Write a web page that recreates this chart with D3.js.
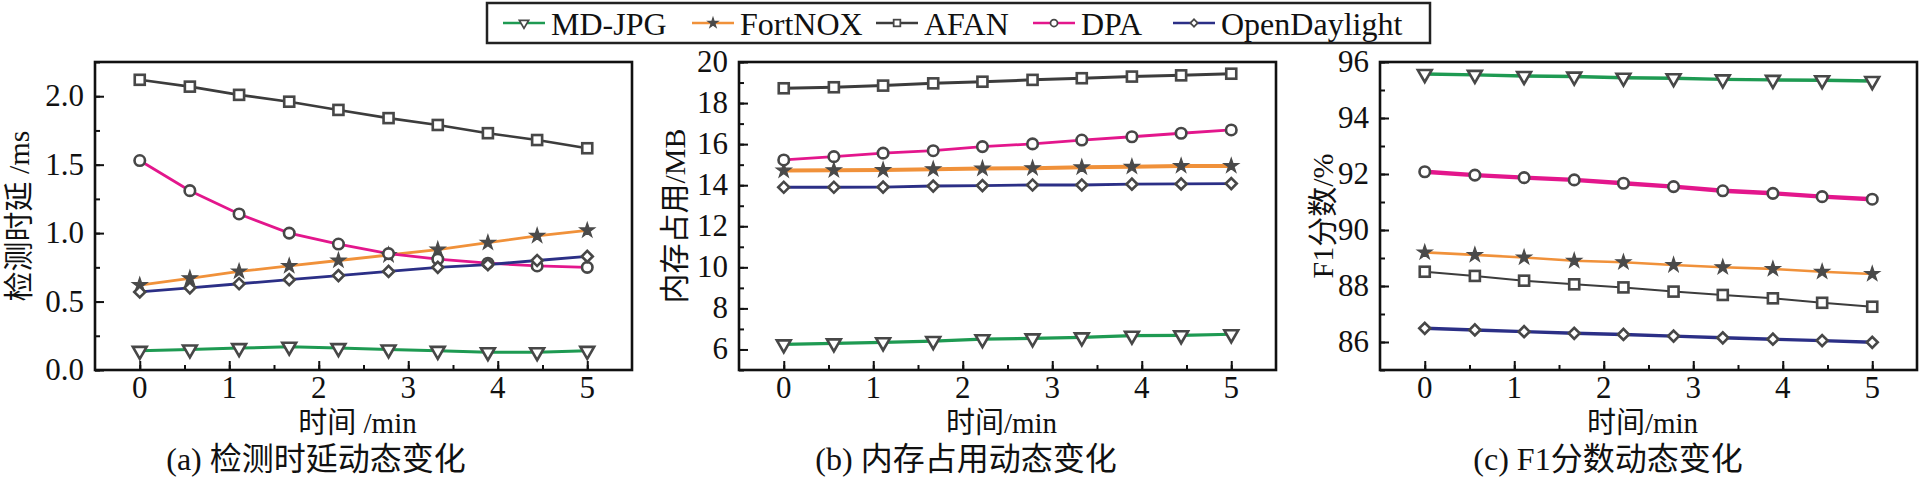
<!DOCTYPE html>
<html>
<head>
<meta charset="utf-8">
<script src="https://cdn.jsdelivr.net/npm/d3@7"></script>
<style>
  body { margin: 0; background: #fff; }
  text { font-family: "Liberation Serif", "Noto Sans CJK SC", serif; fill: #111; }
</style>
</head>
<body>
<svg id="chart" width="1921" height="480"></svg>
<script>
// time points (min)
const times = [0, 0.56, 1.11, 1.67, 2.22, 2.78, 3.33, 3.89, 4.44, 5];
const seriesNames = ["MD-JPG", "FortNOX", "AFAN", "DPA", "OpenDaylight"];
const seriesColors = ["#1e9a52", "#f0913a", "#3c3c3c", "#e3168c", "#2b2f86"];
const xTicks = [0, 1, 2, 3, 4, 5];

// (a) detection delay, ms
const delayMdjpg = [0.14, 0.15, 0.16, 0.17, 0.16, 0.15, 0.14, 0.13, 0.13, 0.14];
const delayFortnox = [0.62, 0.67, 0.72, 0.76, 0.80, 0.84, 0.88, 0.93, 0.98, 1.02];
const delayAfan = [2.12, 2.07, 2.01, 1.96, 1.90, 1.84, 1.79, 1.73, 1.68, 1.62];
const delayDpa = [1.53, 1.31, 1.14, 1.00, 0.92, 0.85, 0.81, 0.78, 0.76, 0.75];
const delayOdl = [0.57, 0.60, 0.63, 0.66, 0.69, 0.72, 0.75, 0.77, 0.80, 0.83];
const delayTicks = ["0.0", "0.5", "1.0", "1.5", "2.0"];

// (b) memory usage, MB
const memMdjpg = [6.25, 6.30, 6.35, 6.41, 6.50, 6.54, 6.59, 6.67, 6.69, 6.74];
const memFortnox = [14.71, 14.73, 14.74, 14.78, 14.81, 14.83, 14.87, 14.90, 14.94, 14.94];
const memAfan = [18.72, 18.77, 18.85, 18.96, 19.04, 19.13, 19.21, 19.29, 19.35, 19.43];
const memDpa = [15.23, 15.39, 15.56, 15.68, 15.88, 16.01, 16.20, 16.36, 16.53, 16.69];
const memOdl = [13.90, 13.90, 13.91, 13.96, 13.98, 14.01, 14.01, 14.05, 14.06, 14.08];
const memTicks = ["6", "8", "10", "12", "14", "16", "18", "20"];

// (c) F1 score, %
const f1Mdjpg = [95.57, 95.54, 95.50, 95.48, 95.44, 95.42, 95.38, 95.36, 95.35, 95.32];
const f1Fortnox = [89.20, 89.11, 89.02, 88.90, 88.85, 88.75, 88.67, 88.61, 88.51, 88.43];
const f1Afan = [88.51, 88.36, 88.19, 88.06, 87.95, 87.80, 87.68, 87.56, 87.40, 87.26];
const f1Dpa = [92.08, 91.96, 91.87, 91.79, 91.67, 91.55, 91.40, 91.31, 91.19, 91.10];
const f1Odl = [86.49, 86.43, 86.37, 86.31, 86.27, 86.21, 86.15, 86.10, 86.05, 85.99];
const f1Ticks = ["86", "88", "90", "92", "94", "96"];

const panels = [
  { left: 95, right: 632, yDomain: [0, 2.25], yTicks: delayTicks, minorStep: 0.25,
    series: [delayMdjpg, delayFortnox, delayAfan, delayDpa, delayOdl],
    widths: [3, 2.8, 2.6, 2.8, 2.8],
    yTitle: "检测时延 /ms", yTitleX: 16, xTitle: "时间 /min", caption: "(a) 检测时延动态变化", captionX: 316 },
  { left: 739, right: 1276, yDomain: [5, 20], yTicks: memTicks, minorStep: 1,
    series: [memMdjpg, memFortnox, memAfan, memDpa, memOdl],
    widths: [3.2, 4, 3, 2.8, 2.8],
    yTitle: "内存占用/MB", yTitleX: 672, xTitle: "时间/min", caption: "(b) 内存占用动态变化", captionX: 966 },
  { left: 1380, right: 1917, yDomain: [85, 96], yTicks: f1Ticks, minorStep: 1,
    series: [f1Mdjpg, f1Fortnox, f1Afan, f1Dpa, f1Odl],
    widths: [3.4, 2.6, 2, 4.4, 3.4],
    yTitle: "F1分数/%", yTitleX: 1320, xTitle: "时间/min", caption: "(c) F1分数动态变化", captionX: 1608 }
];

const plotTop = 62, plotBottom = 370;
const svg = d3.select("#chart");
const markerStroke = "#474747";

function drawMarker(g, i, size) {
  const s = size;
  if (i === 0) {
    g.append("path").attr("d", d3.symbol().type(d3.symbolTriangle).size(s * s * 0.75)())
      .attr("transform", "rotate(180)")
      .attr("fill", "#fff").attr("stroke", markerStroke).attr("stroke-width", s / 4);
  } else if (i === 1) {
    g.append("path").attr("d", d3.symbol().type(d3.symbolStar).size(s * s * 0.62)())
      .attr("fill", "#4a4a4a").attr("stroke", "#4a4a4a").attr("stroke-width", 1.2);
  } else if (i === 2) {
    g.append("rect").attr("x", -s / 2.1).attr("y", -s / 2.1).attr("width", s / 1.05).attr("height", s / 1.05)
      .attr("fill", "#fff").attr("stroke", markerStroke).attr("stroke-width", s / 4);
  } else if (i === 3) {
    g.append("circle").attr("r", s / 2)
      .attr("fill", "#fff").attr("stroke", markerStroke).attr("stroke-width", s / 4);
  } else {
    g.append("rect").attr("x", -s / 2.7).attr("y", -s / 2.7).attr("width", s / 1.35).attr("height", s / 1.35)
      .attr("transform", "rotate(45)")
      .attr("fill", "#fff").attr("stroke", markerStroke).attr("stroke-width", s / 4);
  }
}

panels.forEach(p => {
  const x = d3.scaleLinear().domain([-0.5, 5.5]).range([p.left, p.right]);
  const y = d3.scaleLinear().domain(p.yDomain).range([plotBottom, plotTop]);
  const g = svg.append("g");

  // minor + major ticks (inside)
  const yMinor = d3.range(p.yDomain[0], p.yDomain[1] + 1e-9, p.minorStep);
  const yMajor = p.yTicks.map(Number);
  g.append("g").attr("transform", `translate(${p.left},0)`)
    .call(d3.axisRight(y).tickValues(yMinor).tickSize(5).tickFormat(""))
    .call(a => a.select(".domain").remove())
    .selectAll("line").attr("stroke", "#111").attr("stroke-width", 2);
  g.append("g").attr("transform", `translate(${p.left},0)`)
    .call(d3.axisRight(y).tickValues(yMajor).tickSize(9).tickFormat(""))
    .call(a => a.select(".domain").remove())
    .selectAll("line").attr("stroke", "#111").attr("stroke-width", 2);
  g.append("g").attr("transform", `translate(0,${plotBottom})`)
    .call(d3.axisTop(x).tickValues(d3.range(0, 5.01, 0.5)).tickSize(5).tickFormat(""))
    .call(a => a.select(".domain").remove())
    .selectAll("line").attr("stroke", "#111").attr("stroke-width", 2);
  g.append("g").attr("transform", `translate(0,${plotBottom})`)
    .call(d3.axisTop(x).tickValues(xTicks).tickSize(9).tickFormat(""))
    .call(a => a.select(".domain").remove())
    .selectAll("line").attr("stroke", "#111").attr("stroke-width", 2);

  // tick labels
  g.selectAll(".ylab").data(p.yTicks).enter().append("text")
    .attr("x", p.left - 11).attr("y", d => y(+d) + 10)
    .attr("text-anchor", "end").attr("font-size", 31).text(d => d);
  g.selectAll(".xlab").data(xTicks).enter().append("text")
    .attr("x", d => x(d)).attr("y", plotBottom + 28)
    .attr("text-anchor", "middle").attr("font-size", 31).text(d => d);

  // lines
  const line = d3.line().x((d, i) => x(times[i])).y(d => y(d));
  p.series.forEach((vals, i) => {
    g.append("path").datum(vals).attr("d", line)
      .attr("fill", "none").attr("stroke", seriesColors[i]).attr("stroke-width", p.widths[i]);
  });
  p.series.forEach((vals, i) => {
    vals.forEach((v, k) => {
      const m = g.append("g").attr("transform", `translate(${x(times[k])},${y(v)})`);
      drawMarker(m, i, 10.5);
    });
  });

  // frame
  g.append("rect").attr("x", p.left).attr("y", plotTop)
    .attr("width", p.right - p.left).attr("height", plotBottom - plotTop)
    .attr("fill", "none").attr("stroke", "#111").attr("stroke-width", 2.6);

  // titles
  g.append("text").attr("transform", `translate(${p.yTitleX + 13},${(plotTop + plotBottom) / 2}) rotate(-90)`)
    .attr("text-anchor", "middle").attr("font-size", 30).text(p.yTitle);
  g.append("text").attr("x", (p.left + p.right) / 2 - 6).attr("y", 433)
    .attr("text-anchor", "middle").attr("font-size", 29).text(p.xTitle);
  g.append("text").attr("x", p.captionX).attr("y", 470)
    .attr("text-anchor", "middle").attr("font-size", 32).text(p.caption);
});

// legend
const legendX = [503, 692, 876, 1033, 1173];
const lg = svg.append("g");
lg.append("rect").attr("x", 487).attr("y", 3).attr("width", 943).attr("height", 40)
  .attr("fill", "#fff").attr("stroke", "#222").attr("stroke-width", 2.5);
seriesNames.forEach((name, i) => {
  const lx = legendX[i];
  lg.append("line").attr("x1", lx).attr("x2", lx + 42).attr("y1", 23).attr("y2", 23)
    .attr("stroke", seriesColors[i]).attr("stroke-width", 2.4);
  const m = lg.append("g").attr("transform", `translate(${lx + 21},23)`);
  drawMarker(m, i, 7);
  lg.append("text").attr("x", lx + 48).attr("y", 35).attr("font-size", 32).text(name);
});
</script>
</body>
</html>
